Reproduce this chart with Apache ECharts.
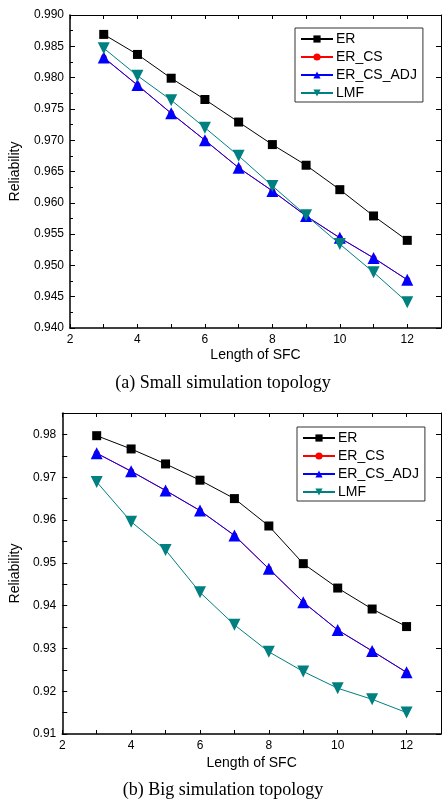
<!DOCTYPE html>
<html>
<head>
<meta charset="utf-8">
<script src="https://cdn.jsdelivr.net/npm/echarts@6/dist/echarts.min.js"></script>
<style>
  html, body { margin: 0; padding: 0; background: #fff; }
  #chart { width: 446px; height: 800px; }
</style>
</head>
<body>
<div id="chart"></div>
<script>
// x categories (length of SFC)
var lengths = [3, 4, 5, 6, 7, 8, 9, 10, 11, 12];
var seriesNames = ["ER", "ER_CS", "ER_CS_ADJ", "LMF"];

// (a) small simulation topology
var smallER = [0.9869, 0.9837, 0.9799, 0.9765, 0.9729, 0.9693, 0.9660, 0.9621, 0.9579, 0.9540];
var smallERCS = [0.9832, 0.9788, 0.9743, 0.9700, 0.9656, 0.9619, 0.9579, 0.9544, 0.9512, 0.9477];
var smallERCSADJ = [0.9832, 0.9788, 0.9743, 0.9700, 0.9656, 0.9619, 0.9579, 0.9544, 0.9512, 0.9477];
var smallLMF = [0.9847, 0.9803, 0.9764, 0.9720, 0.9675, 0.9627, 0.9580, 0.9534, 0.9489, 0.9441];

// (b) big simulation topology
var bigER = [0.9797, 0.9766, 0.9731, 0.9693, 0.9650, 0.9586, 0.9498, 0.9441, 0.9392, 0.9351];
var bigERCS = [0.9756, 0.9714, 0.9669, 0.9622, 0.9564, 0.9486, 0.9408, 0.9343, 0.9294, 0.9244];
var bigERCSADJ = [0.9756, 0.9714, 0.9669, 0.9622, 0.9564, 0.9486, 0.9408, 0.9343, 0.9294, 0.9244];
var bigLMF = [0.9689, 0.9596, 0.9530, 0.9431, 0.9355, 0.9292, 0.9246, 0.9207, 0.9181, 0.9150];

var font = "Liberation Sans, Arial, sans-serif";
var serif = "Liberation Serif, Times New Roman, serif";

function pairs(vals) {
  return lengths.map(function (x, i) { return [x, vals[i]]; });
}

var styles = {
  ER: { color: "#000000", symbol: "rect", symbolSize: 9, symbolRotate: 0 },
  ER_CS: { color: "#ff0000", symbol: "circle", symbolSize: 6, symbolRotate: 0 },
  ER_CS_ADJ: { color: "#0000ff", symbol: "triangle", symbolSize: 12, symbolRotate: 0 },
  LMF: { color: "#008080", symbol: "triangle", symbolSize: 12, symbolRotate: 180 }
};

function makeSeries(name, vals, axisIdx) {
  var s = styles[name];
  return {
    name: name,
    type: "line",
    xAxisIndex: axisIdx,
    yAxisIndex: axisIdx,
    data: pairs(vals),
    symbol: s.symbol,
    symbolSize: s.symbolSize,
    symbolRotate: s.symbolRotate,
    showAllSymbol: true,
    itemStyle: { color: s.color },
    lineStyle: { color: s.color, width: 1 },
    emphasis: { disabled: true },
    animation: false
  };
}

function bottomX(gridIndex, nameGap) {
  return {
    type: "value", gridIndex: gridIndex, position: "bottom",
    min: 2, max: 13, interval: 1,
    name: "Length of SFC", nameLocation: "middle", nameGap: nameGap,
    nameTextStyle: { fontFamily: font, fontSize: 14, color: "#000" },
    axisLine: { show: true, onZero: false, lineStyle: { color: "#000", width: 1.5 } },
    axisTick: { show: true, inside: true, length: 4, lineStyle: { color: "#000" } },
    axisLabel: {
      fontFamily: font, fontSize: 12, color: "#000", margin: 6,
      formatter: function (v) { return (v % 2 === 0 && v < 13) ? String(v) : ""; }
    },
    splitLine: { show: false }
  };
}

function topX(gridIndex) {
  return {
    type: "value", gridIndex: gridIndex, position: "top",
    min: 2, max: 13, interval: 1,
    axisLine: { show: true, onZero: false, lineStyle: { color: "#000", width: 1 } },
    axisTick: { show: true, inside: true, length: 4, lineStyle: { color: "#000" } },
    axisLabel: { show: false },
    splitLine: { show: false }
  };
}

function leftY(gridIndex, min, max, interval, fmt, nameGap, minor) {
  return {
    type: "value", gridIndex: gridIndex, position: "left",
    min: min, max: max, interval: interval,
    name: "Reliability", nameLocation: "middle", nameGap: nameGap,
    nameTextStyle: { fontFamily: font, fontSize: 14, color: "#000" },
    axisLine: { show: true, onZero: false, lineStyle: { color: "#000", width: 1.5 } },
    axisTick: { show: true, inside: true, length: 5, lineStyle: { color: "#000" } },
    minorTick: minor ? { show: true, splitNumber: 2, length: 3, lineStyle: { color: "#000" } } : { show: false },
    axisLabel: { fontFamily: font, fontSize: 12, color: "#000", margin: 6, formatter: fmt },
    splitLine: { show: false }
  };
}

function rightY(gridIndex, min, max, interval) {
  return {
    type: "value", gridIndex: gridIndex, position: "right",
    min: min, max: max, interval: interval,
    axisLine: { show: true, onZero: false, lineStyle: { color: "#000", width: 1 } },
    axisTick: { show: true, inside: true, length: 5, lineStyle: { color: "#000" } },
    axisLabel: { show: false },
    splitLine: { show: false }
  };
}

function legendAt(left, top) {
  return {
    data: seriesNames,
    orient: "vertical",
    left: left, top: top,
    padding: [4, 6, 2, 5],
    itemGap: 4,
    itemWidth: 32,
    itemHeight: 9,
    borderColor: "#333",
    borderWidth: 1,
    selectedMode: false,
    textStyle: { fontFamily: font, fontSize: 14, lineHeight: 14, color: "#000", padding: [0, 0, 0, -2] }
  };
}

var chart = echarts.init(document.getElementById("chart"), null, { renderer: "canvas" });

chart.setOption({
  backgroundColor: "#fff",
  animation: false,
  title: [
    {
      text: "(a) Small simulation topology", left: "center", top: 369,
      textStyle: { fontFamily: serif, fontSize: 18, fontWeight: "normal", color: "#000" }
    },
    {
      text: "(b) Big simulation topology", left: "center", top: 776,
      textStyle: { fontFamily: serif, fontSize: 18, fontWeight: "normal", color: "#000" }
    }
  ],
  legend: [legendAt(295, 28), legendAt(297, 427)],
  grid: [
    { left: 58, top: 15, width: 383, height: 313 },
    { left: 48, top: 413, width: 393, height: 321 }
  ],
  xAxis: [bottomX(0, 20), topX(0), bottomX(1, 22), topX(1)],
  yAxis: [
    leftY(0, 0.94, 0.99, 0.005, function (v) { return v.toFixed(3); }, 48, true),
    rightY(0, 0.94, 0.99, 0.005),
    leftY(1, 0.91, 0.985, 0.005, function (v) {
      var r = v * 100;
      return Math.abs(r - Math.round(r)) < 1e-6 ? v.toFixed(2) : "";
    }, 38, false),
    rightY(1, 0.91, 0.985, 0.01)
  ],
  series: [
    makeSeries("ER", smallER, 0),
    makeSeries("ER_CS", smallERCS, 0),
    makeSeries("ER_CS_ADJ", smallERCSADJ, 0),
    makeSeries("LMF", smallLMF, 0),
    makeSeries("ER", bigER, 2),
    makeSeries("ER_CS", bigERCS, 2),
    makeSeries("ER_CS_ADJ", bigERCSADJ, 2),
    makeSeries("LMF", bigLMF, 2)
  ]
});
</script>
</body>
</html>
